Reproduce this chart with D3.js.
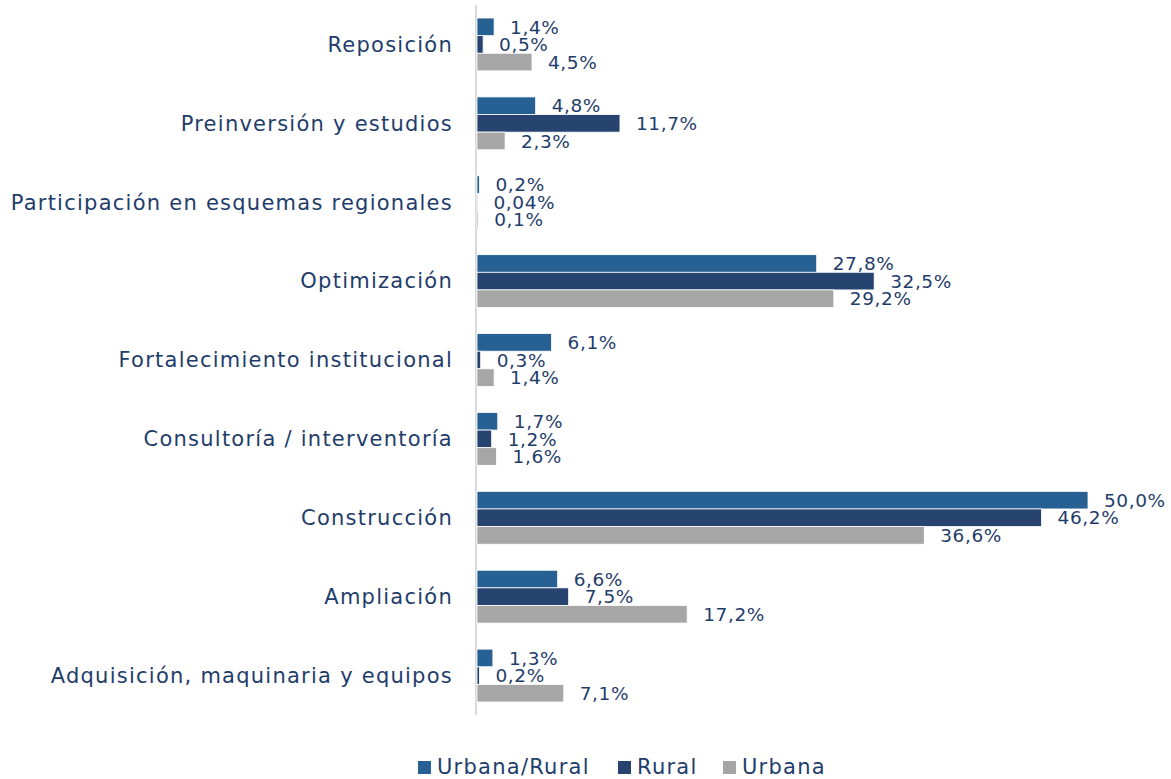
<!DOCTYPE html>
<html>
<head>
<meta charset="utf-8">
<script src="https://cdn.jsdelivr.net/npm/d3@7"></script>
<style>
  body { margin: 0; background: #fff; }
  svg text { font-family: "DejaVu Sans", sans-serif; fill: #1f3d6b; }
</style>
</head>
<body>
<svg id="chart" width="1171" height="779"></svg>
<script>
// data
const categories = ['Reposición', 'Preinversión y estudios', 'Participación en esquemas regionales',
  'Optimización', 'Fortalecimiento institucional', 'Consultoría / interventoría',
  'Construcción', 'Ampliación', 'Adquisición, maquinaria y equipos'];
const seriesNames = ['Urbana/Rural', 'Rural', 'Urbana'];
const urbanaRural = [1.4, 4.8, 0.2, 27.8, 6.1, 1.7, 50.0, 6.6, 1.3];
const rural = [0.5, 11.7, 0.04, 32.5, 0.3, 1.2, 46.2, 7.5, 0.2];
const urbana = [4.5, 2.3, 0.1, 29.2, 1.4, 1.6, 36.6, 17.2, 7.1];
const colors = ['#276092', '#27436f', '#a6a6a6'];

const values = [urbanaRural, rural, urbana];
const rows = categories.map((c, i) => ({
  cat: c,
  vals: seriesNames.map((s, j) => ({ s, j, v: values[j][i] }))
}));

const svg = d3.select('#chart');
const padLeft = 477, padTop = 5, plotBottom = 715;

const x = d3.scaleLinear().domain([0, 50]).range([padLeft, 1088]);
const y = d3.scaleBand().domain(categories).range([padTop, plotBottom]).paddingInner(0.33).paddingOuter(0.165);
const ySub = d3.scaleBand().domain(seriesNames).range([0, y.bandwidth()]);

const fmt = v => (v < 0.1 ? v.toFixed(2) : v.toFixed(1)).replace('.', ',') + '%';

// axis line
svg.append('line')
  .attr('x1', padLeft - 1).attr('x2', padLeft - 1)
  .attr('y1', padTop).attr('y2', plotBottom)
  .attr('stroke', '#d9d9d9').attr('stroke-width', 2);

// category labels
svg.selectAll('.cat').data(categories)
  .join('text')
  .attr('class', 'cat')
  .attr('x', 453)
  .attr('y', d => y(d) + y.bandwidth() / 2)
  .attr('dy', '0.35em')
  .attr('text-anchor', 'end')
  .style('font-size', '21px')
  .style('letter-spacing', '1.25px')
  .text(d => d);

const groups = svg.selectAll('.grp').data(rows)
  .join('g')
  .attr('class', 'grp')
  .attr('transform', d => `translate(0,${y(d.cat)})`);

groups.selectAll('rect').data(d => d.vals)
  .join('rect')
  .attr('x', padLeft)
  .attr('y', d => ySub(d.s))
  .attr('width', d => x(d.v) - padLeft)
  .attr('height', ySub.bandwidth())
  .attr('fill', d => colors[d.j])
  .attr('stroke', '#fff')
  .attr('stroke-width', 0.8);

groups.selectAll('.lbl').data(d => d.vals)
  .join('text')
  .attr('class', 'lbl')
  .attr('x', d => x(d.v) + 16)
  .attr('y', d => ySub(d.s) + ySub.bandwidth() / 2)
  .attr('dy', '0.36em')
  .style('font-size', '18.5px')
  .style('letter-spacing', '0.6px')
  .text(d => fmt(d.v));

// legend
const legendX = [418, 618, 723];
const legend = svg.selectAll('.leg').data(seriesNames)
  .join('g')
  .attr('class', 'leg')
  .attr('transform', (d, i) => `translate(${legendX[i]},767)`);
legend.append('rect')
  .attr('x', 0).attr('y', -6).attr('width', 13).attr('height', 13)
  .attr('fill', (d, i) => colors[i]);
legend.append('text')
  .attr('x', 19).attr('dy', '0.35em')
  .style('font-size', '21px')
  .style('letter-spacing', '1.25px')
  .text(d => d);
</script>
</body>
</html>
